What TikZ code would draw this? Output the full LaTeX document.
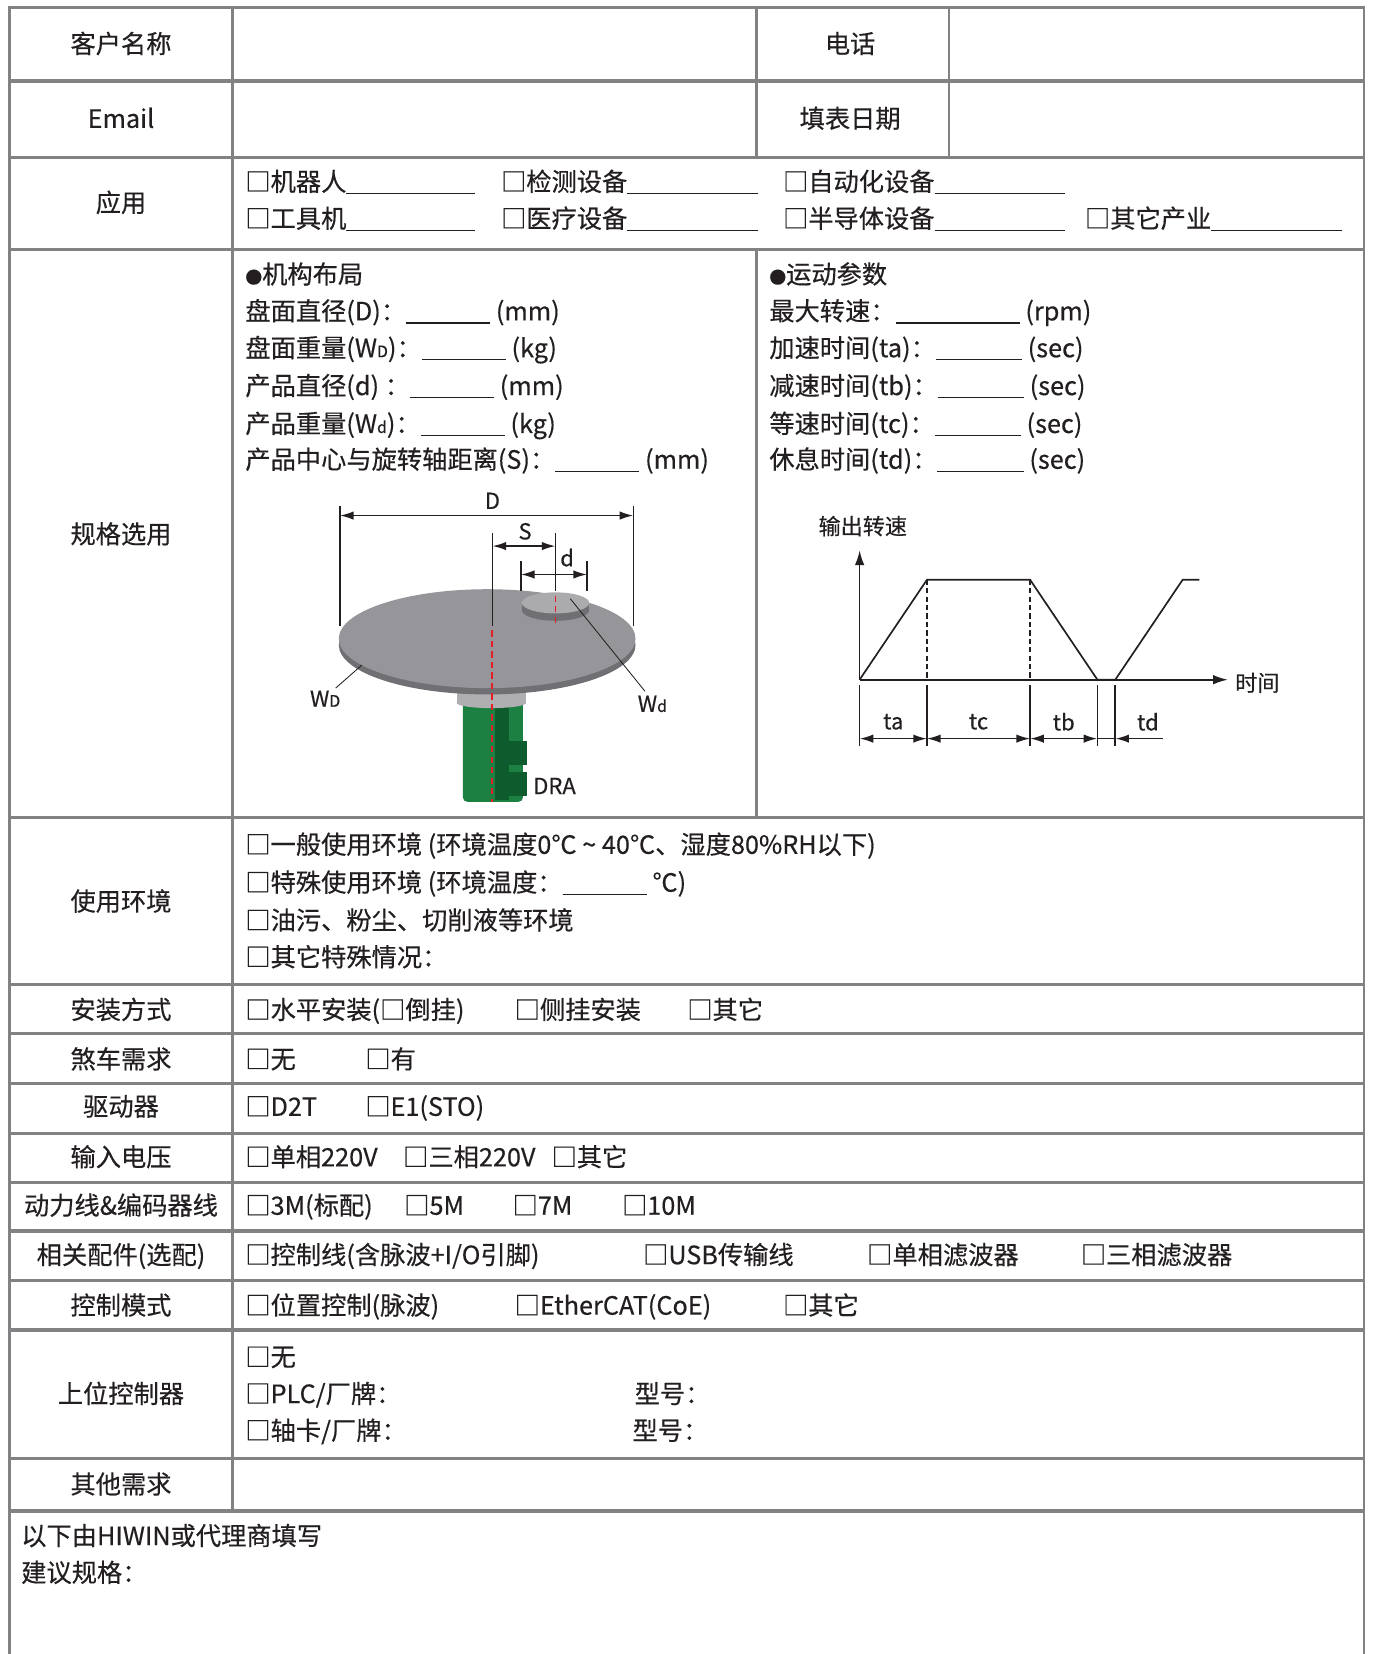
\documentclass[tikz,border=0pt]{standalone}
\usepackage{fontspec}
\setmainfont{Noto Sans CJK SC}[FakeBold=0.4]
\usepackage{xcolor}
\usetikzlibrary{arrows.meta}
\definecolor{gridgray}{RGB}{130,130,132}
\definecolor{ink}{RGB}{35,31,32}
\definecolor{discgray}{RGB}{150,150,154}
\definecolor{discedge}{RGB}{112,112,116}
\definecolor{hubgray}{RGB}{175,175,178}
\definecolor{motorgreen}{RGB}{28,128,66}
\definecolor{motordark}{RGB}{14,92,46}
\definecolor{axisred}{RGB}{228,30,38}
\newcommand{\fillline}[1]{\rule[-3pt]{#1pt}{1.3pt}}
\newcommand{\subscr}[1]{{\fontsize{15}{15}\selectfont #1}}
\begin{document}
\begin{tikzpicture}[
    x=1pt, y=-1pt,
    grid/.style={draw=gridgray, line width=3pt},
    vgrid/.style={draw=gridgray, line width=2pt},
    cell/.style={inner sep=0pt, text height=20pt, text depth=3pt, font=\fontsize{24}{28}\selectfont, text=ink},
    item/.style={cell, anchor=west},
    small/.style={inner sep=0pt, font=\fontsize{21}{24}\selectfont, text=ink},
    dim/.style={draw=ink, line width=1.6pt},
    arrow/.style={dim, {Latex[length=13pt,width=8pt]}-{Latex[length=13pt,width=8pt]}}
]
    \useasboundingbox (0,0) rectangle (1305,1572);

    % table rules
    \draw[vgrid] (9,6) -- (9,1572);
    \draw[vgrid] (1296,6) -- (1296,1572);
    \draw[vgrid] (221,7) -- (221,1436);
    \draw[vgrid] (719,7) -- (719,150);
    \draw[vgrid] (719,237) -- (719,777);
    \draw[vgrid] (902,7) -- (902,150);
    \foreach \y in {7,77,150,237,777,936,982,1030,1077,1124,1170,1217,1264,1386,1436}
        \draw[grid] (8,\y) -- (1297,\y);

    % row headings
    \foreach \y/\t/\n in {42/客户名称/name, 113/Email/mail, 193/应用/app, 508/规格选用/spec,
        857/使用环境/env, 960/安装方式/mount, 1007/煞车需求/brake, 1052/驱动器/drive,
        1100/输入电压/volt, 1146/动力线\&编码器线/cable, 1193/相关配件(选配)/acc,
        1241/控制模式/mode, 1325/上位控制器/host, 1411/其他需求/misc}
        \node[cell] (h\n) at (115,\y) {\t};
    \node[cell] (htel) at (808,42) {电话};
    \node[cell] (hdate) at (808,113) {填表日期};

    % application
    \node[item] (robot) at (233,173) {□机器人\fillline{122}};
    \node[item] (inspect) at (476,173) {□检测设备\fillline{124}};
    \node[item] (auto) at (744,173) {□自动化设备\fillline{124}};
    \node[item] (tool) at (233,208) {□工具机\fillline{122}};
    \node[item] (medical) at (476,208) {□医疗设备\fillline{124}};
    \node[item] (semi) at (744,208) {□半导体设备\fillline{124}};
    \node[item] (industry) at (1031,208) {□其它产业\fillline{124}};

    % layout parameters
    \node[item] (layout) at (233,261) {{\fontsize{16}{16}\selectfont ●}机构布局};
    \node[item] (diskdia) at (233,296) {盘面直径(D)：\fillline{80} (mm)};
    \node[item] (diskwt) at (233,331) {盘面重量(W\subscr{D})：\fillline{80} (kg)};
    \node[item] (partdia) at (233,367) {产品直径(d) ：\fillline{80} (mm)};
    \node[item] (partwt) at (233,403) {产品重量(W\subscr{d})：\fillline{80} (kg)};
    \node[item] (offset) at (233,437) {产品中心与旋转轴距离(S)：\fillline{80} (mm)};

    % motion parameters
    \node[item] (motion) at (731,261) {{\fontsize{16}{16}\selectfont ●}运动参数};
    \node[item] (vmax) at (731,296) {最大转速：\fillline{118} (rpm)};
    \node[item] (tacc) at (731,331) {加速时间(ta)：\fillline{82} (sec)};
    \node[item] (tdec) at (731,367) {减速时间(tb)：\fillline{82} (sec)};
    \node[item] (tconst) at (731,403) {等速时间(tc)：\fillline{82} (sec)};
    \node[item] (trest) at (731,437) {休息时间(td)：\fillline{82} (sec)};

    % motor and disc
    \fill[motorgreen, rounded corners=4pt] (440,664) rectangle (497,762);
    \fill[motordark] (470,668) rectangle (484,760);
    \fill[motordark] (482,704) rectangle (501,727);
    \fill[motordark] (482,734) rectangle (501,757);
    \fill[hubgray] (434,655) rectangle (500,668);
    \fill[hubgray] (467,668) ellipse (33pt and 5pt);
    \fill[discedge] (463,613) ellipse (141pt and 47pt);
    \fill[discgray] (463,607) ellipse (141pt and 47pt);
    \fill[discedge] (496,573) rectangle (560,580);
    \fill[discedge] (528,580) ellipse (32pt and 10pt);
    \fill[hubgray!85!discgray] (528,573) ellipse (32pt and 10pt);
    \draw[axisred, line width=1.8pt, dash pattern=on 6pt off 4pt] (468,599) -- (468,762);
    \draw[axisred, line width=1.8pt, dash pattern=on 6pt off 4pt] (528,566) -- (528,595);

    % dimensions
    \coordinate (dl) at (323,490);
    \coordinate (dr) at (602,490);
    \draw[dim] (323,481) -- (323,595);
    \draw[dim] (602,481) -- (602,595);
    \draw[arrow] (dl) -- (dr);
    \node[small] (dlab) at (468,476) {D};
    \coordinate (sl) at (468,519);
    \coordinate (sr) at (528,519);
    \draw[dim] (468,507) -- (468,595);
    \draw[dim] (528,507) -- (528,562);
    \draw[arrow] (sl) -- (sr);
    \node[small] (slab) at (499,505) {S};
    \coordinate (pl) at (495,546);
    \coordinate (pr) at (558,546);
    \draw[dim] (495,533) -- (495,562);
    \draw[dim] (558,533) -- (558,562);
    \draw[arrow] (pl) -- (pr);
    \node[small] (plab) at (539,530) {d};

    % leaders
    \node[small] (wdisk) at (309,664) {W\subscr{D}};
    \node[small] (wpart) at (620,669) {W\subscr{d}};
    \node[small] (dra) at (527,747) {DRA};
    \coordinate (wdiskpt) at (344,632);
    \coordinate (wpartpt) at (542,569);
    \draw[ink, line width=0.8pt] (wdiskpt) -- (319,654);
    \draw[ink, line width=0.8pt] (wpartpt) -- (613,657);

    % speed profile
    \coordinate (o) at (817,646);
    \coordinate (ya) at (881,551);
    \coordinate (yb) at (979,551);
    \coordinate (yc) at (1043,646);
    \coordinate (yd) at (1060,646);
    \coordinate (ye) at (1124,551);
    \coordinate (yf) at (1140,551);
    \coordinate (ytop) at (817,523);
    \coordinate (xend) at (1167,646);
    \draw[dim, -{Latex[length=14pt,width=9pt]}] (o) -- (ytop);
    \draw[dim, -{Latex[length=14pt,width=9pt]}] (o) -- (xend);
    \draw[dim] (o) -- (ya) -- (yb) -- (yc) -- (yd) -- (ye) -- (yf);
    \draw[dim, dash pattern=on 5pt off 3pt] (ya) -- (881,646);
    \draw[dim, dash pattern=on 5pt off 3pt] (yb) -- (979,646);
    \foreach \x in {817,881,979,1043,1060}
        \draw[dim] (\x,651) -- (\x,709);
    \draw[arrow] (817,702) -- (881,702);
    \draw[arrow] (881,702) -- (979,702);
    \draw[arrow] (979,702) -- (1043,702);
    \draw[dim] (1043,702) -- (1060,702);
    \draw[dim, {Latex[length=13pt,width=8pt]}-] (1060,702) -- (1105,702);
    \node[small] (ylab) at (820,500) {输出转速};
    \node[small] (xlab) at (1195,649) {时间};
    \node[small] (ta) at (849,686) {ta};
    \node[small] (tc) at (930,686) {tc};
    \node[small] (tb) at (1011,686) {tb};
    \node[small] (td) at (1091,686) {td};

    % environment
    \node[item] (normal) at (233,803) {□一般使用环境 (环境温度0℃ \textasciitilde{} 40℃、湿度80\%RH以下)};
    \node[item] (special) at (233,839) {□特殊使用环境 (环境温度：\fillline{80} ℃)};
    \node[item] (dirty) at (233,875) {□油污、粉尘、切削液等环境};
    \node[item] (otherenv) at (233,910) {□其它特殊情况：};

    % single-line rows
    \node[item] (horiz) at (233,960) {□水平安装(□倒挂)};
    \node[item] (side) at (489,960) {□侧挂安装};
    \node[item] (mountother) at (653,960) {□其它};
    \node[item] (nobrake) at (233,1007) {□无};
    \node[item] (brake) at (347,1007) {□有};
    \node[item] (dtwo) at (233,1052) {□D2T};
    \node[item] (eone) at (347,1052) {□E1(STO)};
    \node[item] (single) at (233,1100) {□单相220V};
    \node[item] (three) at (383,1100) {□三相220V};
    \node[item] (voltother) at (524,1100) {□其它};
    \node[item] (cthree) at (233,1146) {□3M(标配)};
    \node[item] (cfive) at (384,1146) {□5M};
    \node[item] (cseven) at (487,1146) {□7M};
    \node[item] (cten) at (591,1146) {□10M};
    \node[item] (ctrl) at (233,1193) {□控制线(含脉波+I/O引脚)};
    \node[item] (usb) at (611,1193) {□USB传输线};
    \node[item] (fone) at (824,1193) {□单相滤波器};
    \node[item] (fthree) at (1027,1193) {□三相滤波器};
    \node[item] (pos) at (233,1241) {□位置控制(脉波)};
    \node[item] (ecat) at (489,1241) {□EtherCAT(CoE)};
    \node[item] (modeother) at (744,1241) {□其它};

    % host controller
    \node[item] (nohost) at (233,1290) {□无};
    \node[item] (plc) at (233,1325) {□PLC/厂牌：};
    \node[item] (plcmodel) at (603,1325) {型号：};
    \node[item] (card) at (233,1360) {□轴卡/厂牌：};
    \node[item] (cardmodel) at (601,1360) {型号：};

    % agent section
    \node[item] (agent) at (20,1460) {以下由HIWIN或代理商填写};
    \node[item] (advice) at (20,1495) {建议规格：};
\end{tikzpicture}
\end{document}
